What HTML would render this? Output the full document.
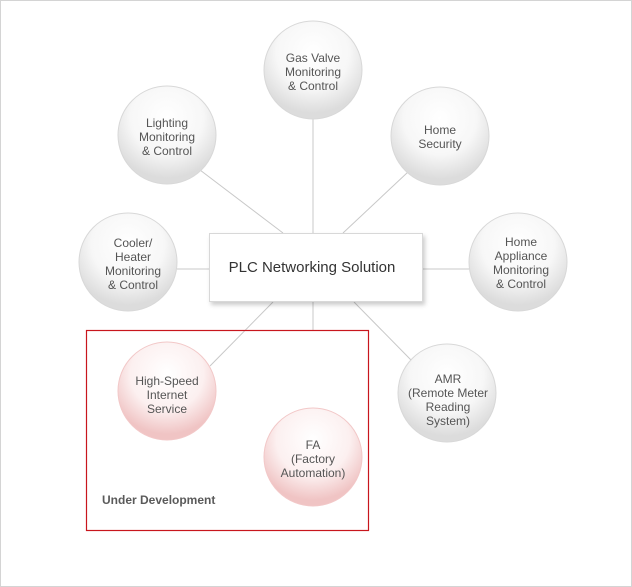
<!DOCTYPE html>
<html><head><meta charset="utf-8"><style>
html,body{margin:0;padding:0;background:#fff}
svg{display:block}
text{font-family:"Liberation Sans",sans-serif;fill:#555;font-size:12px;text-anchor:middle}
</style></head><body>
<svg width="632" height="587" viewBox="0 0 632 587">
<defs>
<radialGradient id="g" cx="50%" cy="32%" r="62%">
<stop offset="0" stop-color="#ffffff"/><stop offset="0.6" stop-color="#f7f7f7"/><stop offset="1" stop-color="#dcdcdc"/>
</radialGradient>
<radialGradient id="p" cx="50%" cy="32%" r="62%">
<stop offset="0" stop-color="#ffffff"/><stop offset="0.6" stop-color="#fcf0f0"/><stop offset="1" stop-color="#f0c4c4"/>
</radialGradient>
<filter id="sh" x="-10%" y="-10%" width="130%" height="140%"><feDropShadow dx="2" dy="3" stdDeviation="2" flood-color="#000" flood-opacity="0.2"/></filter>
</defs>
<rect x="0.5" y="0.5" width="631" height="586" fill="#fff" stroke="#d4d4d4"/>
<g stroke="#c8c8c8" stroke-width="1">
<line x1="313" y1="119" x2="313" y2="233"/>
<line x1="200" y1="170" x2="283" y2="233"/>
<line x1="408" y1="172" x2="343" y2="233"/>
<line x1="177" y1="269" x2="209" y2="269"/>
<line x1="423" y1="269" x2="469" y2="269"/>
<line x1="313" y1="302" x2="313" y2="330"/>
<line x1="273" y1="302" x2="210" y2="366"/>
<line x1="354" y1="302" x2="411" y2="360"/>
</g>
<rect x="86.5" y="330.5" width="282" height="200" fill="none" stroke="#c8161d" stroke-width="1.2"/>
<g stroke="#d8d8d8">
<circle cx="313" cy="70" r="49" fill="url(#g)"/>
<circle cx="167" cy="135" r="49" fill="url(#g)"/>
<circle cx="440" cy="136" r="49" fill="url(#g)"/>
<circle cx="128" cy="262" r="49" fill="url(#g)"/>
<circle cx="518" cy="262" r="49" fill="url(#g)"/>
<circle cx="447" cy="393" r="49" fill="url(#g)"/>
</g>
<g stroke="#f2c8c8">
<circle cx="167" cy="391" r="49" fill="url(#p)"/>
<circle cx="313" cy="457" r="49" fill="url(#p)"/>
</g>
<rect x="209.5" y="233.5" width="213" height="68" fill="#fff" stroke="#d8d8d8" filter="url(#sh)"/>
<text x="312" y="272" style="font-size:15px;fill:#333">PLC Networking Solution</text>
<text x="313" y="62">Gas Valve</text><text x="313" y="76">Monitoring</text><text x="313" y="90">&amp; Control</text>
<text x="167" y="127">Lighting</text><text x="167" y="141">Monitoring</text><text x="167" y="155">&amp; Control</text>
<text x="440" y="134">Home</text><text x="440" y="148">Security</text>
<text x="133" y="247">Cooler/</text><text x="133" y="261">Heater</text><text x="133" y="275">Monitoring</text><text x="133" y="289">&amp; Control</text>
<text x="521" y="246">Home</text><text x="521" y="260">Appliance</text><text x="521" y="274">Monitoring</text><text x="521" y="288">&amp; Control</text>
<text x="448" y="383">AMR</text><text x="448" y="397">(Remote Meter</text><text x="448" y="411">Reading</text><text x="448" y="425">System)</text>
<text x="167" y="385">High-Speed</text><text x="167" y="399">Internet</text><text x="167" y="413">Service</text>
<text x="313" y="449">FA</text><text x="313" y="463">(Factory</text><text x="313" y="477">Automation)</text>
<text x="102" y="504" style="text-anchor:start;font-weight:bold;fill:#5a5a5a">Under Development</text>
</svg>
</body></html>
